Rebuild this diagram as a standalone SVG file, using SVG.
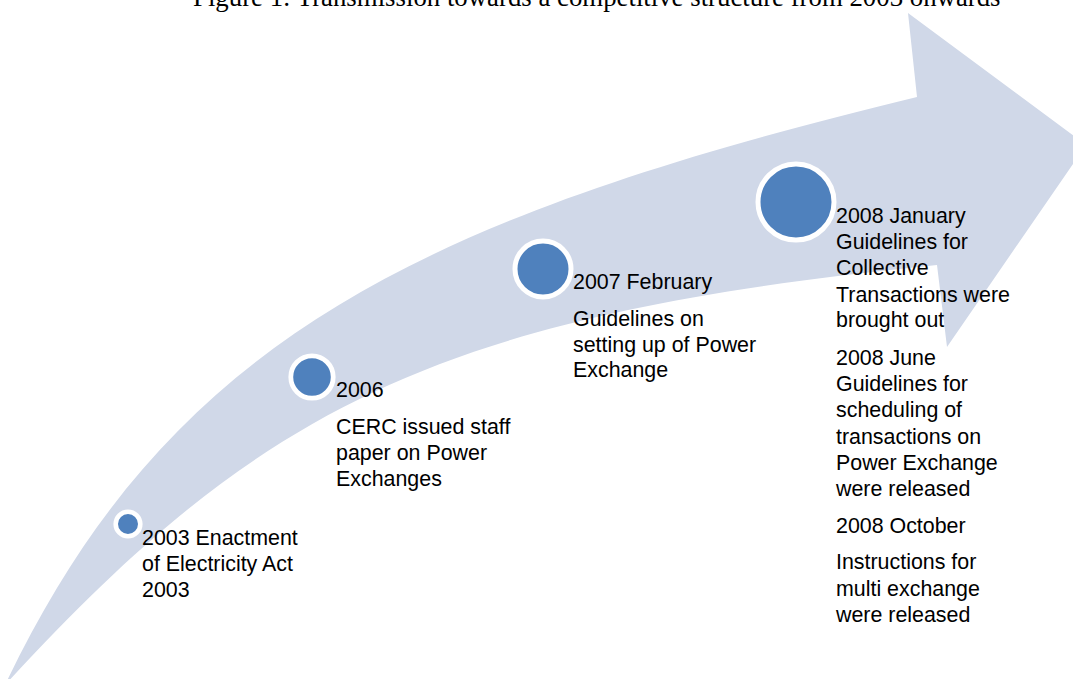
<svg xmlns="http://www.w3.org/2000/svg" width="1073" height="679" viewBox="0 0 1073 679">
  <style>
    .band { fill: #D0D8E8; }
    .dot { fill: #4F81BD; stroke: #FFFFFF; }
    .lbl { font-family: "Liberation Sans", Arial, sans-serif; font-size: 21.4px; fill: #000000; }
    .title { font-family: "Liberation Serif", "Times New Roman", serif; font-size: 26.8px; fill: #000000; }
  </style>
  <rect x="0" y="0" width="1073" height="679" fill="#FFFFFF"/>

  <text class="title" x="193" y="6">Figure 1: Transmission towards a competitive structure from 2003 onwards</text>

  <!-- curved timeline arrow -->
  <g id="timeline-arrow">
    <path class="band" d="M5,685 C168,343 413,219 917,97 L908,13 L1086,145 L947,347 L937,265 C439.5,315 262,405 5,685 Z"/>
  </g>

  <g id="event-2003">
    <circle class="dot" cx="128" cy="524" r="12.3" stroke-width="4.6"/>
    <text class="lbl">
      <tspan x="142" y="545">2003 Enactment</tspan>
      <tspan x="142" y="571">of Electricity Act</tspan>
      <tspan x="142" y="597">2003</tspan>
    </text>
  </g>

  <g id="event-2006">
    <circle class="dot" cx="312" cy="377" r="21.2" stroke-width="4.8"/>
    <text class="lbl">
      <tspan x="336" y="397">2006</tspan>
      <tspan x="336" y="434">CERC issued staff</tspan>
      <tspan x="336" y="460">paper on Power</tspan>
      <tspan x="336" y="486">Exchanges</tspan>
    </text>
  </g>

  <g id="event-2007">
    <circle class="dot" cx="543" cy="269" r="28" stroke-width="5"/>
    <text class="lbl">
      <tspan x="573" y="289">2007 February</tspan>
      <tspan x="573" y="326">Guidelines on</tspan>
      <tspan x="573" y="352">setting up of Power</tspan>
      <tspan x="573" y="377">Exchange</tspan>
    </text>
  </g>

  <g id="event-2008">
    <circle class="dot" cx="796" cy="202" r="38" stroke-width="5"/>
    <text class="lbl">
      <tspan x="836" y="223">2008 January</tspan>
      <tspan x="836" y="249">Guidelines for</tspan>
      <tspan x="836" y="275">Collective</tspan>
      <tspan x="836" y="302">Transactions were</tspan>
      <tspan x="836" y="327">brought out</tspan>
      <tspan x="836" y="365">2008 June</tspan>
      <tspan x="836" y="391">Guidelines for</tspan>
      <tspan x="836" y="417">scheduling of</tspan>
      <tspan x="836" y="444">transactions on</tspan>
      <tspan x="836" y="470">Power Exchange</tspan>
      <tspan x="836" y="496">were released</tspan>
      <tspan x="836" y="533">2008 October</tspan>
      <tspan x="836" y="569">Instructions for</tspan>
      <tspan x="836" y="596">multi exchange</tspan>
      <tspan x="836" y="622">were released</tspan>
    </text>
  </g>
</svg>
